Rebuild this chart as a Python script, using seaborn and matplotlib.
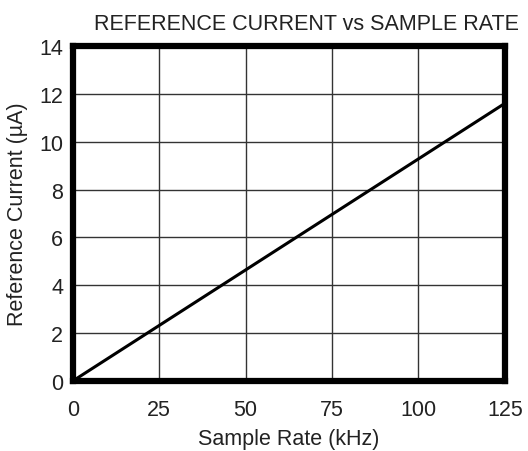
import matplotlib
matplotlib.use('Agg')
import matplotlib.pyplot as plt
import seaborn as sns
import pandas as pd

sample_rate = [0, 125]
ref_current = [0, 11.6]
x_ticks = [0, 25, 50, 75, 100, 125]
y_ticks = [0, 2, 4, 6, 8, 10, 12, 14]

df = pd.DataFrame({'Sample Rate': sample_rate, 'Reference Current': ref_current})

sns.set_style('white')
plt.rcParams['font.family'] = ['Liberation Sans', 'DejaVu Sans']
text_color = '#222222'

fig = plt.figure(figsize=(5.28, 4.52), dpi=100)
ax = fig.add_axes([0.138, 0.155, 0.818, 0.741])
sns.lineplot(x='Sample Rate', y='Reference Current', data=df, color='black', linewidth=2.2, ax=ax)

ax.set_xlim(0, 125)
ax.set_ylim(0, 14)
ax.set_xticks(x_ticks)
ax.set_yticks(y_ticks)
ax.grid(True, color='#333333', linewidth=1.0)
for s in ax.spines.values():
    s.set_visible(True)
    s.set_color('black')
    s.set_linewidth(4.5)
ax.tick_params(axis='both', length=0, labelsize=15.5, labelcolor=text_color)
ax.tick_params(axis='x', pad=13)
ax.tick_params(axis='y', pad=7)
ax.set_xlabel('Sample Rate (kHz)', fontsize=15.5, color=text_color, labelpad=6)
ax.set_ylabel('Reference Current (\u00b5A)', fontsize=15.5, color=text_color, labelpad=8)
ax.set_title('REFERENCE CURRENT vs SAMPLE RATE', fontsize=15.5, color=text_color, pad=12, x=0.54)

fig.savefig('out.png', dpi=100)
